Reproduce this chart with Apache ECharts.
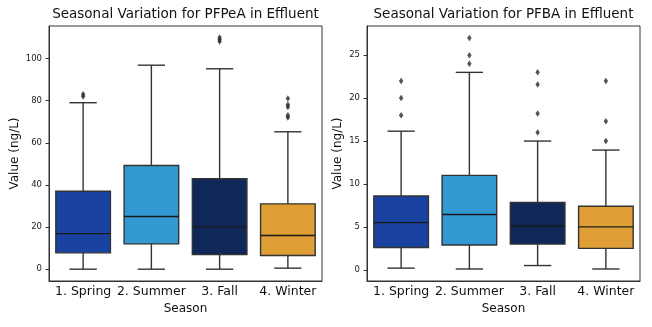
<!DOCTYPE html>
<html>
<head>
<meta charset="utf-8">
<script src="https://cdn.jsdelivr.net/npm/echarts@6/dist/echarts.min.js"></script>
<style>html,body{margin:0;padding:0;background:#fff}#c{width:652px;height:327px}</style>
</head>
<body>
<div id="c"></div>
<script>
const seasons = ['1. Spring', '2. Summer', '3. Fall', '4. Winter'];
const seasonColors = ['#1a43a1', '#3399d2', '#10275a', '#e09e37'];
// [lower whisker, Q1, median, Q3, upper whisker]
const pfpeaStats = [
  [0, 7.75, 16.9, 37, 79],
  [0, 12, 25, 49.2, 96.8],
  [0, 7, 20.1, 42.9, 95.1],
  [0.5, 6.5, 16, 31, 65.2]
];
const pfpeaOutliers = [
  [0, 82], [0, 83],
  [2, 108], [2, 109], [2, 110],
  [3, 72], [3, 73], [3, 77], [3, 78], [3, 81]
];
const pfbaStats = [
  [0.2, 2.6, 5.5, 8.6, 16.15],
  [0.1, 2.9, 6.45, 11.0, 23.0],
  [0.5, 3.0, 5.1, 7.85, 15.0],
  [0.1, 2.5, 5.0, 7.4, 13.95]
];
const pfbaOutliers = [
  [0, 18], [0, 20], [0, 22],
  [1, 24], [1, 25], [1, 27],
  [2, 16], [2, 18.2], [2, 21.6], [2, 23],
  [3, 15], [3, 17.3], [3, 22]
];
const pfpeaTicks = [0, 20, 40, 60, 80, 100];
const pfbaTicks = [0, 5, 10, 15, 20, 25];

const font = 'DejaVu Sans';
const lineCol = '#333333';

function renderBox(params, api) {
  const i = api.value(0);
  const pLo = api.coord([i, api.value(1)]);
  const pQ1 = api.coord([i, api.value(2)]);
  const pMed = api.coord([i, api.value(3)]);
  const pQ3 = api.coord([i, api.value(4)]);
  const pHi = api.coord([i, api.value(5)]);
  const band = api.size([1, 0])[0];
  const bw = band * 0.8;
  const cw = bw / 2;
  const cx = pMed[0];
  const ls = {stroke: lineCol, lineWidth: 1.4};
  return {
    type: 'group',
    children: [
      {type: 'line', shape: {x1: cx, y1: pQ1[1], x2: cx, y2: pLo[1]}, style: ls},
      {type: 'line', shape: {x1: cx, y1: pQ3[1], x2: cx, y2: pHi[1]}, style: ls},
      {type: 'line', shape: {x1: cx - cw / 2, y1: pLo[1], x2: cx + cw / 2, y2: pLo[1]}, style: ls},
      {type: 'line', shape: {x1: cx - cw / 2, y1: pHi[1], x2: cx + cw / 2, y2: pHi[1]}, style: ls},
      {type: 'rect', shape: {x: cx - bw / 2, y: pQ3[1], width: bw, height: pQ1[1] - pQ3[1]},
        style: {fill: seasonColors[i], stroke: lineCol, lineWidth: 1.4}},
      {type: 'line', shape: {x1: cx - bw / 2, y1: pMed[1], x2: cx + bw / 2, y2: pMed[1]},
        style: {stroke: '#1a1a1a', lineWidth: 1.4}}
    ]
  };
}

function boxData(stats) {
  return stats.map((s, i) => [i, s[0], s[1], s[2], s[3], s[4]]);
}

const grids = [
  {left: 49, right: 330, top: 26, bottom: 46},
  {left: 367, right: 12, top: 26, bottom: 46}
];

function xAxis(gi) {
  return {
    type: 'category', gridIndex: gi, data: seasons,
    name: 'Season', nameLocation: 'middle', nameGap: 20,
    nameTextStyle: {fontFamily: font, fontSize: 12, color: '#111'},
    axisLine: {onZero: false, lineStyle: {color: lineCol, width: 1}},
    axisTick: {alignWithLabel: true, length: 3.5, lineStyle: {color: lineCol}},
    axisLabel: {fontFamily: font, fontSize: 12.5, color: '#111', margin: 4, interval: 0},
    splitLine: {show: false}
  };
}
function yAxis(gi, min, max, ticks, gap) {
  return {
    type: 'value', gridIndex: gi, min: min, max: max,
    name: 'Value (ng/L)', nameLocation: 'middle', nameGap: gap,
    nameTextStyle: {fontFamily: font, fontSize: 12, color: '#111'},
    axisLine: {show: true, onZero: false, lineStyle: {color: lineCol, width: 1}},
    axisTick: {show: true, length: 3.5, customValues: ticks, lineStyle: {color: lineCol}},
    axisLabel: {fontFamily: font, fontSize: 8.5, color: '#222', margin: 7, customValues: ticks},
    splitLine: {show: false}
  };
}

const chart = echarts.init(document.getElementById('c'), null, {renderer: 'canvas'});
chart.setOption({
  animation: false,
  backgroundColor: '#fff',
  title: [
    {text: 'Seasonal Variation for PFPeA in Effluent', left: 185.5, top: 7, textAlign: 'center', padding: 0,
      textStyle: {fontFamily: font, fontSize: 13.5, fontWeight: 'normal', color: '#111'}},
    {text: 'Seasonal Variation for PFBA in Effluent', left: 503.5, top: 7, textAlign: 'center', padding: 0,
      textStyle: {fontFamily: font, fontSize: 13.5, fontWeight: 'normal', color: '#111'}}
  ],
  grid: grids.map(g => Object.assign({show: true, borderColor: lineCol, borderWidth: 1, backgroundColor: 'transparent'}, g)),
  xAxis: [xAxis(0), xAxis(1)],
  yAxis: [yAxis(0, -5.6, 115.4, pfpeaTicks, 28), yAxis(1, -1.3, 28.4, pfbaTicks, 23)],
  series: [
    {type: 'custom', xAxisIndex: 0, yAxisIndex: 0, renderItem: renderBox,
      encode: {x: 0, y: [1, 2, 3, 4, 5]}, data: boxData(pfpeaStats), z: 2},
    {type: 'scatter', xAxisIndex: 0, yAxisIndex: 0, data: pfpeaOutliers, symbol: 'diamond',
      symbolSize: [4.5, 6.5], itemStyle: {color: '#2a2a2a'}, z: 3},
    {type: 'custom', xAxisIndex: 1, yAxisIndex: 1, renderItem: renderBox,
      encode: {x: 0, y: [1, 2, 3, 4, 5]}, data: boxData(pfbaStats), z: 2},
    {type: 'scatter', xAxisIndex: 1, yAxisIndex: 1, data: pfbaOutliers, symbol: 'diamond',
      symbolSize: [4.5, 6.5], itemStyle: {color: '#2a2a2a'}, z: 3}
  ]
});
</script>
</body>
</html>
